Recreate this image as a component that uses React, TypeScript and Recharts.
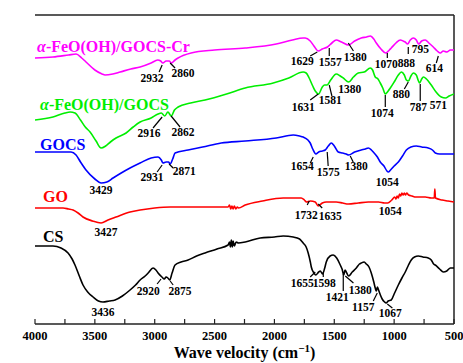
import { LineChart, Line, XAxis, YAxis, ReferenceLine, ReferenceDot } from 'recharts'

// FTIR spectra: [wavenumber (cm-1), transmittance (a.u., curves offset)]
const crSpectrum: [number, number][] = [
  [4000, 266], [3850, 267], [3720, 269], [3657, 270], [3610, 266], [3574, 262], [3500, 254], [3440, 250],
  [3415, 249], [3350, 250], [3289, 252], [3200, 255], [3122, 257], [3030, 261], [2975, 264], [2950, 263],
  [2932, 261], [2905, 263], [2880, 263], [2860, 261], [2830, 264], [2805, 266], [2696, 271], [2500, 274],
  [2244, 276], [1985, 280], [1850, 284], [1760, 286], [1743, 286], [1701, 283], [1670, 278], [1634, 273],
  [1600, 275], [1557, 277], [1520, 281], [1484, 284], [1440, 282], [1380, 279], [1330, 283], [1275, 286],
  [1230, 287], [1199, 288], [1170, 285], [1149, 281], [1110, 275], [1070, 271], [1040, 274], [1024, 276],
  [985, 281], [948, 284], [925, 283], [907, 282], [888, 280], [865, 284], [840, 286], [815, 284], [795, 280],
  [770, 283], [740, 284], [710, 281], [673, 277], [640, 273], [614, 271], [590, 273], [560, 272], [530, 274],
  [500, 274],
]

const feoSpectrum: [number, number][] = [
  [4000, 204], [3850, 207], [3750, 211], [3707, 212], [3666, 211], [3620, 204], [3580, 197], [3540, 192],
  [3490, 183], [3448, 176], [3410, 178], [3370, 182], [3323, 186], [3239, 191], [3180, 197], [3122, 202],
  [3030, 206], [2972, 210], [2945, 211], [2916, 208], [2890, 212], [2862, 208], [2835, 214], [2805, 217],
  [2700, 221], [2579, 224], [2400, 230], [2244, 236], [2010, 241], [1880, 246], [1760, 252], [1735, 251],
  [1710, 246], [1680, 238], [1659, 233], [1631, 230], [1600, 237], [1581, 239], [1560, 239], [1530, 244],
  [1484, 250], [1450, 248], [1425, 246], [1380, 242], [1340, 247], [1300, 251], [1250, 252], [1199, 256],
  [1180, 254], [1158, 247], [1135, 245], [1116, 241], [1095, 236], [1074, 230], [1050, 233], [1032, 236],
  [1000, 242], [965, 249], [940, 252], [915, 249], [898, 244], [880, 243], [860, 248], [840, 251], [815, 249],
  [800, 244], [787, 241], [770, 245], [756, 247], [730, 245], [690, 239], [650, 232], [606, 227], [571, 226],
  [540, 228], [500, 230],
]

const gocsSpectrum: [number, number][] = [
  [4000, 172], [3800, 172], [3699, 172], [3657, 169], [3620, 162], [3574, 154], [3500, 145], [3448, 141],
  [3400, 142], [3348, 146], [3280, 151], [3206, 156], [3122, 161], [3030, 166], [2972, 167], [2945, 164],
  [2931, 161], [2905, 162], [2885, 162], [2871, 160], [2850, 165], [2830, 171], [2721, 174], [2600, 177],
  [2445, 181], [2244, 183], [1985, 186], [1843, 189], [1790, 188], [1760, 187], [1720, 184], [1701, 181],
  [1680, 175], [1654, 170], [1630, 172], [1600, 173], [1576, 174], [1550, 178], [1525, 181], [1500, 178],
  [1467, 172], [1430, 171], [1400, 170], [1380, 169], [1330, 172], [1275, 174], [1240, 175], [1216, 176],
  [1190, 174], [1174, 172], [1140, 167], [1116, 162], [1085, 158], [1060, 153], [1049, 152], [1030, 154],
  [1000, 158], [965, 162], [930, 168], [898, 174], [860, 177], [815, 178], [770, 177], [715, 176], [680, 174],
  [656, 171], [620, 170], [560, 170], [500, 170],
]

const goSpectrum: [number, number][] = [
  [4000, 116], [3850, 116], [3766, 116], [3720, 115], [3682, 114], [3640, 111], [3599, 107], [3520, 103],
  [3448, 101], [3390, 104], [3323, 107], [3206, 112], [3122, 114], [3000, 116], [2871, 117], [2600, 117],
  [2387, 117], [2375, 119], [2365, 115], [2355, 118], [2345, 115], [2335, 118], [2322, 115], [2310, 117],
  [2300, 116], [2244, 119], [2100, 123], [1927, 126], [1850, 126], [1776, 126], [1750, 124], [1732, 122],
  [1700, 123], [1659, 122], [1635, 118], [1600, 121], [1567, 122], [1520, 122], [1484, 122], [1430, 121],
  [1383, 120], [1300, 121], [1216, 122], [1130, 122], [1080, 121], [1054, 121], [1020, 124], [995, 127],
  [985, 125], [975, 128], [965, 126], [955, 130], [945, 128], [935, 131], [925, 129], [915, 131], [905, 129],
  [895, 131], [880, 129], [850, 128], [820, 127], [798, 127], [740, 127], [690, 126], [665, 126], [660, 135],
  [655, 126], [600, 124], [550, 123], [500, 122],
]

const csSpectrum: [number, number][] = [
  [4000, 78], [3850, 78], [3783, 76], [3724, 71], [3690, 65], [3666, 59], [3630, 48], [3599, 39], [3560, 32],
  [3515, 27], [3470, 23], [3432, 22], [3380, 23], [3331, 24], [3270, 28], [3206, 34], [3160, 39], [3122, 44],
  [3080, 48], [3055, 51], [3014, 56], [2990, 54], [2972, 51], [2940, 47], [2920, 45], [2905, 47], [2890, 46],
  [2875, 44], [2855, 51], [2830, 59], [2780, 62], [2721, 64], [2650, 68], [2579, 71], [2480, 75], [2387, 79],
  [2375, 82], [2368, 77], [2360, 84], [2352, 77], [2345, 83], [2335, 78], [2320, 82], [2300, 81], [2244, 82],
  [2119, 86], [2000, 87], [1927, 88], [1843, 87], [1790, 85], [1760, 81], [1735, 77], [1718, 71], [1700, 62],
  [1692, 57], [1670, 51], [1655, 49], [1630, 52], [1617, 53], [1598, 50], [1580, 56], [1567, 62], [1535, 68],
  [1509, 69], [1480, 66], [1450, 59], [1435, 55], [1421, 49], [1410, 54], [1400, 52], [1380, 48], [1350, 52],
  [1316, 56], [1290, 60], [1275, 61], [1250, 62], [1233, 60], [1210, 57], [1191, 51], [1170, 42], [1158, 36],
  [1149, 33], [1140, 37], [1133, 35], [1115, 29], [1100, 25], [1080, 22], [1067, 21], [1050, 23], [1024, 24],
  [1000, 30], [965, 39], [935, 46], [907, 52], [880, 59], [857, 64], [830, 67], [798, 68], [760, 67], [715, 66],
  [690, 64], [670, 60], [656, 59], [620, 55], [589, 52], [560, 53], [530, 56], [500, 56],
]

const xTicks = [4000, 3750, 3500, 3250, 3000, 2750, 2500, 2250, 2000, 1750, 1500, 1250, 1000, 750, 500]

const series = [
  { name: 'FeO(OH)/GOCS-Cr', color: '#ff00ff', points: crSpectrum },
  { name: 'FeO(OH)/GOCS', color: '#00ee00', points: feoSpectrum },
  { name: 'GOCS', color: '#0000ff', points: gocsSpectrum },
  { name: 'GO', color: '#ff0000', points: goSpectrum },
  { name: 'CS', color: '#000000', points: csSpectrum },
]

// series names, anchored at start of text
const nameLabels = [
  { text: 'FeO(OH)/GOCS-Cr', alpha: true, color: '#ff00ff', wn: 3983, t: 272 },
  { text: 'FeO(OH)/GOCS', alpha: true, color: '#00ee00', wn: 3958, t: 214 },
  { text: 'GOCS', alpha: false, color: '#0000ff', wn: 3958, t: 174 },
  { text: 'GO', alpha: false, color: '#ff0000', wn: 3933, t: 122 },
  { text: 'CS', alpha: false, color: '#000000', wn: 3933, t: 82 },
]

// peak labels: text centre + optional leader line
type Peak = { text: string; wn: number; t: number; lead?: [number, number, number, number] }
const peaks: Peak[] = [
  { text: '2932', wn: 3022, t: 246, lead: [2938, 259, 2963, 252] },
  { text: '2860', wn: 2763, t: 251, lead: [2871, 261, 2830, 256] },
  { text: '1629', wn: 1768, t: 263, lead: [1642, 272, 1701, 268] },
  { text: '1557', wn: 1534, t: 262, lead: [1542, 276, 1542, 268] },
  { text: '1380', wn: 1325, t: 267, lead: [1383, 281, 1340, 273] },
  { text: '1070', wn: 1066, t: 260, lead: [1057, 271, 1057, 266] },
  { text: '888', wn: 898, t: 261, lead: [882, 277, 882, 270] },
  { text: '795', wn: 780, t: 275 },
  { text: '614', wn: 664, t: 256, lead: [631, 268, 648, 261] },

  { text: '2916', wn: 3047, t: 191, lead: [2938, 207, 3014, 196] },
  { text: '2862', wn: 2763, t: 192, lead: [2863, 208, 2788, 197] },
  { text: '1631', wn: 1760, t: 217, lead: [1634, 230, 1701, 224] },
  { text: '1581', wn: 1534, t: 224, lead: [1542, 239, 1520, 228] },
  { text: '1380', wn: 1370, t: 235 },
  { text: '1074', wn: 1099, t: 211, lead: [1074, 229, 1074, 217] },
  { text: '880', wn: 940, t: 230, lead: [882, 242, 915, 235] },
  { text: '787', wn: 798, t: 217, lead: [782, 240, 782, 223] },
  { text: '571', wn: 631, t: 219 },

  { text: '3429', wn: 3448, t: 134 },
  { text: '2931', wn: 3022, t: 147, lead: [2938, 159, 2980, 152] },
  { text: '2871', wn: 2754, t: 153, lead: [2880, 160, 2846, 156] },
  { text: '1654', wn: 1768, t: 158, lead: [1676, 167, 1701, 161] },
  { text: '1575', wn: 1551, t: 152, lead: [1559, 172, 1551, 158] },
  { text: '1380', wn: 1316, t: 158, lead: [1367, 168, 1342, 162] },
  { text: '1054', wn: 1057, t: 142 },

  { text: '3427', wn: 3406, t: 92 },
  { text: '1732', wn: 1735, t: 109, lead: [1709, 123, 1726, 119] },
  { text: '1635', wn: 1534, t: 108, lead: [1634, 120, 1601, 116] },
  { text: '1054', wn: 1032, t: 113 },

  { text: '3436', wn: 3432, t: 12 },
  { text: '2920', wn: 3055, t: 33, lead: [2947, 45, 2980, 40] },
  { text: '2875', wn: 2788, t: 33, lead: [2871, 43, 2846, 39] },
  { text: '1655', wn: 1768, t: 41, lead: [1659, 52, 1701, 47] },
  { text: '1598', wn: 1584, t: 41, lead: [1592, 52, 1592, 47] },
  { text: '1421', wn: 1475, t: 27, lead: [1425, 50, 1425, 33] },
  { text: '1380', wn: 1283, t: 34, lead: [1408, 48, 1340, 41] },
  { text: '1157', wn: 1258, t: 17, lead: [1141, 31, 1174, 23] },
  { text: '1067', wn: 1032, t: 11, lead: [1057, 20, 1015, 16] },
]

const FONT = "'Liberation Serif', 'Times New Roman', serif"
const FRAME = '#222'

const toRows = (pts: [number, number][]) => pts.map(([wn, t]) => ({ wn, t }))

const XTick = ({ x, y, payload }: any) => (
  <g>
    <line x1={x} x2={x} y1={y} y2={y - 5} stroke={FRAME} strokeWidth={1.2} />
    {payload.value % 500 === 0 && (
      <text x={x} y={y + 16} textAnchor="middle" fontFamily={FONT} fontWeight="bold" fontSize={12.5} fill="#000">
        {payload.value}
      </text>
    )}
  </g>
)

export default function App() {
  return (
    <div style={{ position: 'absolute', left: 0, top: 0, background: '#fff' }}>
      <LineChart width={463} height={363} margin={{ top: 15, right: 9, bottom: 19, left: 35 }}>
        <XAxis
          type="number"
          dataKey="wn"
          domain={[500, 4000]}
          reversed
          allowDataOverflow
          ticks={xTicks}
          interval={0}
          tick={<XTick />}
          tickLine={false}
          tickSize={0}
          tickMargin={0}
          height={20}
          axisLine={{ stroke: FRAME, strokeWidth: 1.5 }}
          label={(props: any) => {
            const vb = props.viewBox
            return (
              <text x={vb.x + vb.width / 2} y={vb.y + 34} textAnchor="middle" fontFamily={FONT} fontWeight="bold" fontSize={16} fill="#000">
                Wave velocity (cm<tspan dy={-6} fontSize={11}>−1</tspan><tspan dy={6}>)</tspan>
              </text>
            )
          }}
        />
        <YAxis
          type="number"
          domain={[0, 309]}
          allowDataOverflow
          tick={false}
          tickLine={false}
          width={0}
          axisLine={{ stroke: FRAME, strokeWidth: 1.5 }}
          label={(props: any) => {
            const vb = props.viewBox
            const cx = vb.x - 17
            const cy = vb.y + vb.height / 2
            return (
              <text x={cx} y={cy} transform={`rotate(-90 ${cx} ${cy})`} textAnchor="middle" dominantBaseline="central" fontFamily={FONT} fontWeight="bold" fontSize={16} fill="#000">
                Transmittance (%)
              </text>
            )
          }}
        />
        <ReferenceLine y={309} stroke={FRAME} strokeWidth={1.5} ifOverflow="visible" />
        <ReferenceLine x={500} stroke={FRAME} strokeWidth={1.5} ifOverflow="visible" />

        {series.map((s) => (
          <Line
            key={s.name}
            data={toRows(s.points)}
            dataKey="t"
            type="monotone"
            stroke={s.color}
            strokeWidth={1.6}
            dot={false}
            activeDot={false}
            isAnimationActive={false}
          />
        ))}

        {peaks.filter((p) => p.lead).map((p, i) => (
          <ReferenceLine
            key={'l' + i}
            segment={[{ x: p.lead![0], y: p.lead![1] }, { x: p.lead![2], y: p.lead![3] }]}
            stroke="#000"
            strokeWidth={1.2}
            ifOverflow="visible"
          />
        ))}

        {peaks.map((p, i) => (
          <ReferenceDot
            key={'p' + i}
            x={p.wn}
            y={p.t}
            r={0}
            ifOverflow="visible"
            shape={(props: any) => (
              <text x={props.cx} y={props.cy} textAnchor="middle" dominantBaseline="central" fontFamily={FONT} fontWeight="bold" fontSize={11.5} fill="#000">
                {p.text}
              </text>
            )}
          />
        ))}

        {nameLabels.map((n, i) => (
          <ReferenceDot
            key={'n' + i}
            x={n.wn}
            y={n.t}
            r={0}
            ifOverflow="visible"
            shape={(props: any) => (
              <text x={props.cx} y={props.cy} fontFamily={FONT} fontWeight="bold" fontSize={16} fill={n.color}>
                {n.alpha && <tspan fontStyle="italic">α</tspan>}
                {n.alpha ? '-' : ''}
                {n.text}
              </text>
            )}
          />
        ))}
      </LineChart>
    </div>
  )
}
